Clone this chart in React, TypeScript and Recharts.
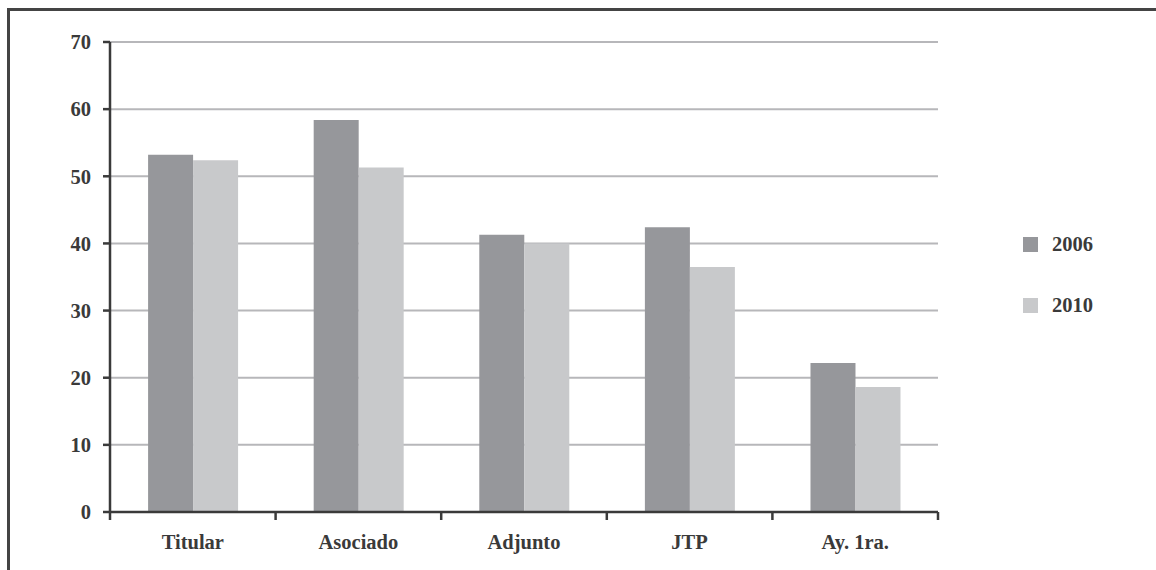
import React from "react";
import { BarChart, Bar, XAxis, YAxis, CartesianGrid, Legend } from "recharts";

const categories = ["Titular", "Asociado", "Adjunto", "JTP", "Ay. 1ra."];
const values2006 = [53.2, 58.4, 41.3, 42.4, 22.2];
const values2010 = [52.4, 51.3, 40.0, 36.5, 18.6];
const yTicks = [0, 10, 20, 30, 40, 50, 60, 70];

const DARK = "#96979b";
const LIGHT = "#c8c9cb";
const INK = "#3a3a3a";
const FONT = "'Liberation Serif', 'Times New Roman', serif";
const X_TICK_SIZE = 8;
const X_TICK_MARGIN = 14;

const data = categories.map((name, i) => ({
  name,
  y2006: values2006[i],
  y2010: values2010[i],
}));

const tickFont = { fill: INK, fontSize: 20.5, fontWeight: 700, fontFamily: FONT };

// category label plus tick marks on the group boundaries (half a band either side)
const CategoryTick = (props: any) => {
  const { x, y, payload, index, visibleTicksCount } = props;
  const half = payload.offset || 0;
  const axisY = y - X_TICK_SIZE - X_TICK_MARGIN;
  const last = index === visibleTicksCount - 1;
  return (
    <g>
      <line x1={x - half} x2={x - half} y1={axisY} y2={axisY + X_TICK_SIZE} stroke={INK} strokeWidth={2.5} />
      {last && <line x1={x + half} x2={x + half} y1={axisY} y2={axisY + X_TICK_SIZE} stroke={INK} strokeWidth={2.5} />}
      <text x={x} y={y} dy="0.71em" textAnchor="middle" {...tickFont}>
        {payload.value}
      </text>
    </g>
  );
};

const renderLegend = (props: any) => (
  <div style={{ fontFamily: FONT, fontWeight: 700, fontSize: 20.5, color: INK }}>
    {(props.payload || []).map((entry: any) => (
      <div key={entry.value} style={{ display: "flex", alignItems: "center", height: 61 }}>
        <span style={{ display: "inline-block", width: 15, height: 15, background: entry.color, marginRight: 14 }} />
        <span>{entry.value}</span>
      </div>
    ))}
  </div>
);

export default function App() {
  return (
    <div style={{ position: "absolute", left: 0, top: 0, width: 1156, height: 570, background: "#fff", overflow: "hidden" }}>
      {/* page frame: top and left rule */}
      <div
        style={{
          position: "absolute",
          left: 7,
          top: 8,
          right: -10,
          bottom: -10,
          borderTop: "3px solid #444",
          borderLeft: "3px solid #444",
        }}
      />
      <BarChart
        width={1156}
        height={570}
        data={data}
        margin={{ top: 42, right: 218, bottom: 0, left: 0 }}
        barCategoryGap="23%"
        barGap={0}
      >
        <CartesianGrid horizontal vertical={false} stroke="#b7b7ba" strokeWidth={2} />
        <XAxis
          dataKey="name"
          height={58}
          axisLine={{ stroke: INK, strokeWidth: 2.5 }}
          tickLine={false}
          tickSize={X_TICK_SIZE}
          tickMargin={X_TICK_MARGIN}
          tick={<CategoryTick />}
          interval={0}
        />
        <YAxis
          domain={[0, 70]}
          ticks={yTicks}
          width={110}
          tickSize={7}
          tickMargin={12}
          tick={tickFont}
          axisLine={{ stroke: INK, strokeWidth: 2.5 }}
          tickLine={{ stroke: INK, strokeWidth: 2.5 }}
          interval={0}
        />
        <Legend
          layout="vertical"
          align="center"
          verticalAlign="middle"
          content={renderLegend}
          wrapperStyle={{ left: 1023, top: 214, width: 120 }}
        />
        <Bar dataKey="y2006" name="2006" fill={DARK} isAnimationActive={false} />
        <Bar dataKey="y2010" name="2010" fill={LIGHT} isAnimationActive={false} />
      </BarChart>
    </div>
  );
}
